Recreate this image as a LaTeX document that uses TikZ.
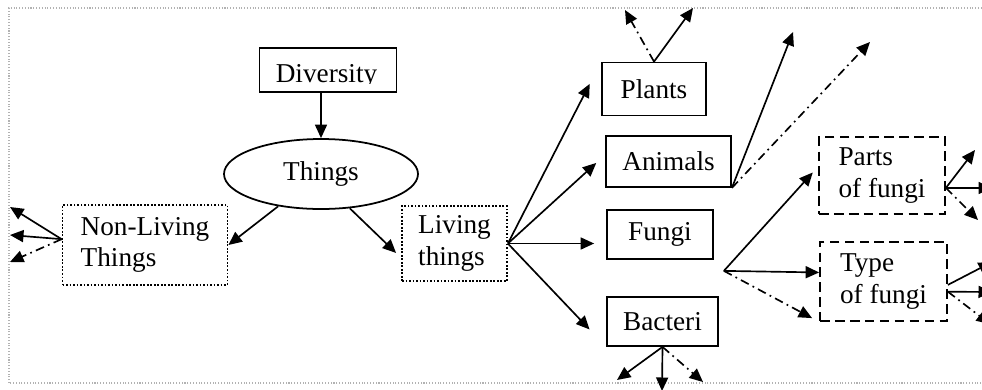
\documentclass[tikz,border=0pt]{standalone}
\usepackage{fontspec}
\setmainfont{Liberation Serif}
\usetikzlibrary{shapes.geometric, arrows.meta, calc}

\begin{document}
\begin{tikzpicture}[
    font=\fontsize{15.5}{18}\selectfont,
    topic/.style={draw, line width=1.1pt, minimum width=2.74cm, minimum height=0.88cm},
    hub/.style={draw, ellipse, line width=1pt, minimum width=3.88cm, minimum height=1.40cm},
    group/.style={draw, densely dotted, line width=1pt, align=left},
    kind/.style={draw, line width=1pt},
    part/.style={draw, dash pattern=on 5.5pt off 3pt, line width=1pt, align=left},
    link/.style={-{Triangle[length=0.27cm, width=0.24cm]}, line width=0.95pt},
    guess/.style={link, dash pattern=on 5pt off 2.5pt on 1pt off 2.5pt},
]
    \useasboundingbox (0,0) rectangle (19.64,7.78);
    \clip (0,0) rectangle (19.64,7.78);

    % Frame
    \draw[gray!60, densely dotted, line width=0.6pt] (0.18,0.12) rectangle (20.2,7.62);

    % Main nodes
    \node[topic] (diversity) at (6.56, 6.38) {};
    \begin{scope}
        \clip (5.3,6.12) rectangle (7.9,6.8);
        \node[anchor=base, inner sep=0pt] (diversity-text) at (6.53, 6.14) {Diversity};
    \end{scope}
    \node[hub] (things) at (6.42, 4.30) {Things};
    \node[group, minimum width=3.30cm, minimum height=1.60cm] (nonliving) at (2.90, 2.88) {Non-Living\\Things};
    \node[group, minimum width=2.10cm, minimum height=1.50cm] (living) at (9.09, 2.91) {Living\\things};

    % Living things
    \node[kind, minimum width=2.08cm, minimum height=1.06cm] (plants) at (13.08, 6.00) {Plants};
    \node[kind, minimum width=2.50cm, minimum height=1.02cm] (animals) at (13.37, 4.55) {Animals};
    \node[kind, minimum width=2.12cm, minimum height=0.98cm] (fungi) at (13.20, 3.09) {Fungi};
    \node[kind, minimum width=2.22cm, minimum height=0.98cm] (bacteri) at (13.25, 1.35) {Bacteri};

    % Fungi
    \node[part, minimum width=2.52cm, minimum height=1.54cm] (parts) at (17.64, 4.27) {Parts\\of fungi};
    \node[part, minimum width=2.54cm, minimum height=1.58cm] (types) at (17.67, 2.15) {Type\\of fungi};

    % Free ends
    \coordinate (nonliving-1) at (0.20, 3.64);
    \coordinate (nonliving-2) at (0.20, 3.08);
    \coordinate (nonliving-3) at (0.20, 2.54);
    \coordinate (plants-1) at (12.50, 7.58);
    \coordinate (plants-2) at (13.86, 7.62);
    \coordinate (animals-1) at (15.86, 7.14);
    \coordinate (animals-2) at (17.40, 6.94);
    \coordinate (fork) at ($(fungi.south east)+(0.2,-0.22)$);
    \coordinate (parts-1) at (19.50, 4.78);
    \coordinate (parts-2) at (19.84, 4.02);
    \coordinate (parts-3) at (19.56, 3.38);
    \coordinate (types-1) at (19.84, 2.54);
    \coordinate (types-2) at (19.84, 1.94);
    \coordinate (types-3) at (19.80, 1.30);
    \coordinate (bacteri-1) at (12.34, 0.18);
    \coordinate (bacteri-2) at (13.24, -0.04);
    \coordinate (bacteri-3) at (14.06, 0.14);

    % Trunk
    \draw[link] (things.north |- diversity.south) -- (things.north);
    \draw[link] (things.217) -- (nonliving.east);
    \draw[link, shorten >=0.14cm] (things.310) -- (living.195);

    % Non-living
    \draw[link] (nonliving.176) -- (nonliving-1);
    \draw[link] (nonliving.176) -- (nonliving-2);
    \draw[guess] (nonliving.176) -- (nonliving-3);

    % Living fan
    \draw[link, shorten >=0.5cm] (living.east) -- (plants.north west);
    \draw[link, shorten >=0.24cm] (living.east) -- (animals.174);
    \draw[link, shorten >=0.24cm] (living.east) -- (living.east -| fungi.west);
    \draw[link, shorten >=0.48cm] (living.east) -- (bacteri.south west);

    % Plants and animals
    \draw[guess] (plants.north) -- (plants-1);
    \draw[link] (plants.north) -- (plants-2);
    \draw[link] (animals.south east) -- (animals-1);
    \draw[guess] (animals.south east) -- (animals-2);

    % Fungi fork
    \draw[link, shorten >=0.16cm] (fork) -- (parts.172);
    \draw[link] (fork) -- (types.172);
    \draw[guess, shorten >=0.16cm] (fork) -- (types.south west);

    \draw[link] (parts.349) -- (parts-1);
    \draw[link] (parts.349) -- (parts-2);
    \draw[guess] (parts.349) -- (parts-3);
    \draw[link] (types.357) -- (types-1);
    \draw[link] (types.351) -- (types-2);
    \draw[guess] (types.351) -- (types-3);

    % Bacteri
    \draw[link] (bacteri.south) -- (bacteri-1);
    \draw[link] (bacteri.south) -- (bacteri-2);
    \draw[guess] (bacteri.south) -- (bacteri-3);
\end{tikzpicture}
\end{document}
